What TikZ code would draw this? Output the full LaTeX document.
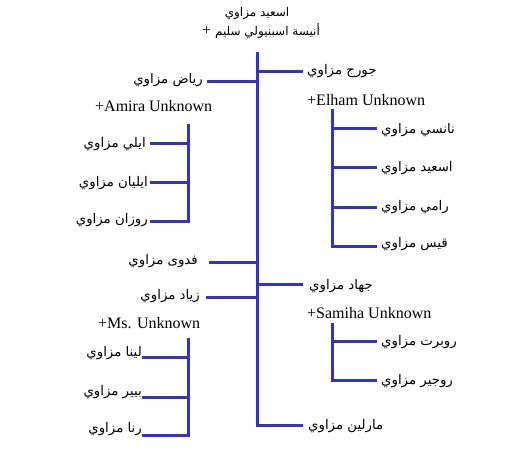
\documentclass[tikz,border=0pt]{standalone}
\usepackage{fontspec}
\setmainfont{Liberation Serif}
\newfontfamily\arabicfont[Script=Arabic]{DejaVu Sans}
\TeXXeTstate=1
\definecolor{linkblue}{HTML}{3333CC}
\begin{document}
\begin{tikzpicture}[x=1pt,y=-1pt,
  link/.style={draw=linkblue, line width=3pt},
  ar/.style={font=\arabicfont\fontsize{13.3}{15}\selectfont, inner sep=0pt},
  artop/.style={font=\arabicfont\fontsize{12}{14}\selectfont, inner sep=0pt},
  en/.style={font=\fontsize{16}{19}\selectfont, inner sep=0pt, anchor=west},
  rn/.style={ar, anchor=west},
  ln/.style={ar, anchor=east},
]
\useasboundingbox (0,0) rectangle (513,474);
% root couple
\node[artop] (root) at (257,13) {\beginR اسعيد مزاوي\endR};
\node[artop] (rootspouse) at (261,31) {{\rmfamily\fontsize{16}{19}\selectfont +} \beginR أنيسة اسبنيولي سليم\endR};
% trunk
\coordinate (trunkTop) at (257,52);
\coordinate (trunkBot) at (257,425);
% children of root
\node[ln] (riyad) at (203,80) {\beginR رياض مزاوي\endR};
\node[rn] (george) at (307,71) {\beginR جورج مزاوي\endR};
\node[en] (amira) at (95,106) {+Amira Unknown};
\node[en] (elham) at (307,100) {+Elham Unknown};
\node[ln] (eli) at (146,144) {\beginR ايلي مزاوي\endR};
\node[ln] (eliyan) at (148,183) {\beginR ايليان مزاوي\endR};
\node[ln] (rozan) at (148,220) {\beginR روزان مزاوي\endR};
\node[rn] (nancy) at (381,130) {\beginR نانسي مزاوي\endR};
\node[rn] (asaid) at (381,168) {\beginR اسعيد مزاوي\endR};
\node[rn] (rami) at (381,207) {\beginR رامي مزاوي\endR};
\node[rn] (qais) at (381,244) {\beginR قيس مزاوي\endR};
\node[ln] (fadwa) at (198,261) {\beginR فدوى مزاوي\endR};
\node[ln] (ziyad) at (200,296) {\beginR زياد مزاوي\endR};
\node[en] (ms) at (98,323) {+Ms. Unknown};
\node[ln] (lina) at (142,353) {\beginR لينا مزاوي\endR};
\node[ln] (pierre) at (142,392) {\beginR بيير مزاوي\endR};
\node[ln] (rana) at (142,429) {\beginR رنا مزاوي\endR};
\node[rn] (jihad) at (309,286) {\beginR جهاد مزاوي\endR};
\node[en] (samiha) at (307,313) {+Samiha Unknown};
\node[rn] (robert) at (381,342) {\beginR روبرت مزاوي\endR};
\node[rn] (roger) at (381,381) {\beginR روجير مزاوي\endR};
\node[rn] (marlin) at (308,426) {\beginR مارلين مزاوي\endR};
% connector end points
\coordinate (riyadEnd) at (207,81);
\coordinate (georgeEnd) at (303,71);
\coordinate (fadwaEnd) at (209,262);
\coordinate (ziyadEnd) at (206,297);
\coordinate (jihadEnd) at (303,284);
\coordinate (marlinEnd) at (303,425);
% trunk connectors
\draw[link] (trunkTop) -- (trunkBot) -- (marlinEnd);
\draw[link] (riyadEnd) -- (riyadEnd -| trunkTop);
\draw[link] (georgeEnd -| trunkTop) -- (georgeEnd);
\draw[link] (fadwaEnd) -- (fadwaEnd -| trunkTop);
\draw[link] (ziyadEnd) -- (ziyadEnd -| trunkTop);
\draw[link] (jihadEnd -| trunkTop) -- (jihadEnd);
% Amira children bracket
\coordinate (amTop) at (188,124);
\coordinate (amBot) at (188,221);
\draw[link] (amTop) -- (amBot) -- (150,221);
\draw[link] (150,143) -- (188,143);
\draw[link] (150,182) -- (188,182);
% Elham children bracket
\coordinate (elTop) at (332,109);
\coordinate (elBot) at (332,246);
\draw[link] (elTop) -- (elBot) -- (377,246);
\draw[link] (332,128) -- (377,128);
\draw[link] (332,167) -- (377,167);
\draw[link] (332,207) -- (377,207);
% Ms children bracket
\coordinate (msTop) at (188,338);
\coordinate (msBot) at (188,435);
\draw[link] (msTop) -- (msBot) -- (142,435);
\draw[link] (142,357) -- (188,357);
\draw[link] (142,397) -- (188,397);
% Samiha children bracket
\coordinate (saTop) at (332,323);
\coordinate (saBot) at (332,380);
\draw[link] (saTop) -- (saBot) -- (377,380);
\draw[link] (332,341) -- (377,341);
\end{tikzpicture}
\end{document}
